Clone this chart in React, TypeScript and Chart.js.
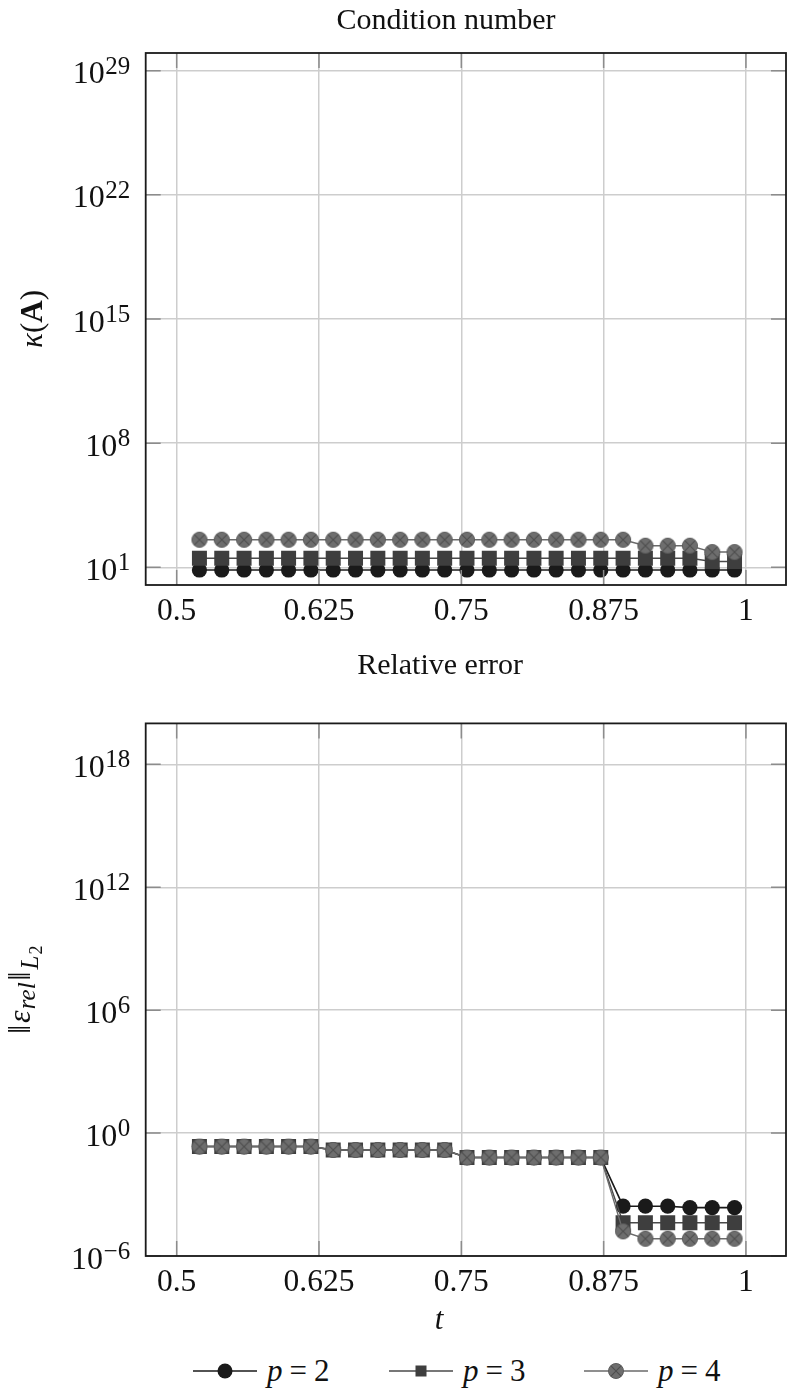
import React, { useEffect, useRef } from 'react';
import { Chart, registerables } from 'chart.js';

Chart.register(...registerables);

// ---------------- data ----------------
const tValues = [
  0.52, 0.5396, 0.5592, 0.5788, 0.5983, 0.6179, 0.6375, 0.6571, 0.6767, 0.6963,
  0.7158, 0.7354, 0.755, 0.7746, 0.7942, 0.8138, 0.8333, 0.8529, 0.8725, 0.8921,
  0.9117, 0.9313, 0.9508, 0.9704, 0.99,
];

const kappaP2 = [
  7, 7, 7, 7, 7, 7, 7, 7, 7, 7, 7, 7, 7, 7, 7, 7, 7, 7, 7, 7, 7, 7, 7, 7, 7,
];
const kappaP3 = [
  32, 32, 32, 32, 32, 32, 32, 32, 32, 32, 32, 32, 32, 32, 32, 32, 32, 32, 32, 32,
  32, 32, 32, 21, 21,
];
const kappaP4 = [
  357, 357, 357, 357, 357, 357, 357, 357, 357, 357, 357, 357, 357, 357, 357, 357,
  357, 357, 357, 357, 164, 164, 164, 72, 72,
];

const errP2 = [
  0.22, 0.22, 0.22, 0.22, 0.22, 0.22, 0.15, 0.15, 0.15, 0.15, 0.15, 0.15,
  0.064, 0.064, 0.064, 0.064, 0.064, 0.064, 0.064,
  2.7e-4, 2.7e-4, 2.7e-4, 2.3e-4, 2.3e-4, 2.3e-4,
];
const errP3 = [
  0.22, 0.22, 0.22, 0.22, 0.22, 0.22, 0.15, 0.15, 0.15, 0.15, 0.15, 0.15,
  0.064, 0.064, 0.064, 0.064, 0.064, 0.064, 0.064,
  4.2e-5, 4.2e-5, 4.2e-5, 4.2e-5, 4.2e-5, 4.2e-5,
];
const errP4 = [
  0.22, 0.22, 0.22, 0.22, 0.22, 0.22, 0.15, 0.15, 0.15, 0.15, 0.15, 0.15,
  0.064, 0.064, 0.064, 0.064, 0.064, 0.064, 0.064,
  1.6e-5, 7e-6, 7e-6, 7e-6, 7e-6, 7e-6,
];

const seriesLabels = ['2', '3', '4'];
const xTicks = [0.5, 0.625, 0.75, 0.875, 1];
const xTickLabels = ['0.5', '0.625', '0.75', '0.875', '1'];
const kappaExps = [1, 8, 15, 22, 29];
const errExps = [-6, 0, 6, 12, 18];

// ---------------- styling ----------------
const SERIF = '"Liberation Serif", "DejaVu Serif", serif';
const C_P2 = '#1a1a1a';
const C_P3 = '#3e3e3e';
const C_P4 = '#6e6e6e';
const LINE_P2 = '#1a1a1a';
const LINE_P3 = '#4a4a4a';
const LINE_P4 = '#6a6a6a';

function makeOtimes(): HTMLCanvasElement {
  const c = document.createElement('canvas');
  c.width = 18;
  c.height = 18;
  const g = c.getContext('2d')!;
  g.beginPath();
  g.arc(9, 9, 7.6, 0, Math.PI * 2);
  g.fillStyle = C_P4;
  g.fill();
  g.lineWidth = 1;
  g.strokeStyle = '#5c5c5c';
  g.stroke();
  g.beginPath();
  const d = 7.6 * Math.SQRT1_2;
  g.moveTo(9 - d, 9 - d);
  g.lineTo(9 + d, 9 + d);
  g.moveTo(9 + d, 9 - d);
  g.lineTo(9 - d, 9 + d);
  g.strokeStyle = '#4e4e4e';
  g.lineWidth = 1.1;
  g.stroke();
  return c;
}

type Seg = { text: string; font: string; dy: number; gap?: number };

function richWidth(ctx: CanvasRenderingContext2D, segs: Seg[]) {
  let w = 0;
  for (const s of segs) {
    ctx.font = s.font;
    w += ctx.measureText(s.text).width + (s.gap || 0);
  }
  return w;
}

function drawRich(ctx: CanvasRenderingContext2D, segs: Seg[], x: number, y: number, rotate: boolean) {
  ctx.save();
  ctx.translate(x, y);
  if (rotate) ctx.rotate(-Math.PI / 2);
  const w = richWidth(ctx, segs);
  let cx = -w / 2;
  ctx.textAlign = 'left';
  ctx.textBaseline = 'alphabetic';
  ctx.fillStyle = '#111';
  for (const s of segs) {
    ctx.font = s.font;
    ctx.fillText(s.text, cx, s.dy);
    cx += ctx.measureText(s.text).width + (s.gap || 0);
  }
  ctx.restore();
}

type Cfg = {
  title: string;
  titleX: number;
  titleY: number;
  exps: number[];
  ylabel: Seg[];
  ylabelX: number;
  xlabel: boolean;
};

function decorPlugin(cfg: Cfg) {
  return {
    id: 'decor',
    afterDraw(chart: any) {
      const ctx: CanvasRenderingContext2D = chart.ctx;
      const { left, right, top, bottom } = chart.chartArea;
      const xs = chart.scales.x;
      const ys = chart.scales.y;
      ctx.save();
      // inward tick marks
      ctx.strokeStyle = '#8c8c8c';
      ctx.lineWidth = 1.5;
      ctx.beginPath();
      for (const v of xTicks) {
        const px = xs.getPixelForValue(v);
        ctx.moveTo(px, top);
        ctx.lineTo(px, top + 15);
        ctx.moveTo(px, bottom);
        ctx.lineTo(px, bottom - 15);
      }
      for (const e of cfg.exps) {
        const py = ys.getPixelForValue(Math.pow(10, e));
        ctx.moveTo(left, py);
        ctx.lineTo(left + 15, py);
        ctx.moveTo(right, py);
        ctx.lineTo(right - 15, py);
      }
      ctx.stroke();
      // frame
      ctx.strokeStyle = '#1a1a1a';
      ctx.lineWidth = 1.8;
      ctx.strokeRect(left, top, right - left, bottom - top);
      // x tick labels
      ctx.fillStyle = '#111';
      ctx.font = `31.5px ${SERIF}`;
      ctx.textAlign = 'center';
      ctx.textBaseline = 'alphabetic';
      xTicks.forEach((v, i) => {
        ctx.fillText(xTickLabels[i], xs.getPixelForValue(v), bottom + 35);
      });
      // y tick labels 10^e
      for (const e of cfg.exps) {
        const py = ys.getPixelForValue(Math.pow(10, e));
        const expStr = e < 0 ? '\u2212' + String(-e) : String(e);
        ctx.font = `25px ${SERIF}`;
        const w2 = ctx.measureText(expStr).width;
        ctx.textAlign = 'left';
        const xr = left - 15.5;
        ctx.fillText(expStr, xr - w2, py + 3);
        ctx.font = `32px ${SERIF}`;
        ctx.textAlign = 'right';
        ctx.fillText('10', xr - w2 - 0.5, py + 12.5);
      }
      // title
      ctx.font = `30px ${SERIF}`;
      ctx.textAlign = 'center';
      ctx.fillText(cfg.title, cfg.titleX, cfg.titleY);
      // y label
      drawRich(ctx, cfg.ylabel, cfg.ylabelX, (top + bottom) / 2, true);
      // x label
      if (cfg.xlabel) {
        ctx.font = `italic 31px ${SERIF}`;
        ctx.textAlign = 'center';
        ctx.fillText('t', 439, bottom + 73);
      }
      ctx.restore();
    },
  };
}

function buildChart(
  canvas: HTMLCanvasElement,
  ys: number[][],
  ymin: number,
  ymax: number,
  exps: number[],
  padTop: number,
  padBottom: number,
  cfg: Cfg,
  otimes: HTMLCanvasElement,
) {
  const mk = (vals: number[]) => vals.map((v, i) => ({ x: tValues[i], y: v }));
  return new Chart(canvas, {
    type: 'line',
    data: {
      datasets: [
        {
          label: 'p = ' + seriesLabels[2],
          data: mk(ys[2]),
          order: 0,
          borderColor: LINE_P4,
          borderWidth: 1.4,
          pointStyle: otimes as any,
          pointRadius: 8,
          backgroundColor: C_P4,
        },
        {
          label: 'p = ' + seriesLabels[1],
          data: mk(ys[1]),
          order: 1,
          borderColor: LINE_P3,
          borderWidth: 1.4,
          pointStyle: 'rect',
          pointRadius: 10.6,
          pointBackgroundColor: C_P3,
          pointBorderColor: C_P3,
          pointBorderWidth: 0,
        },
        {
          label: 'p = ' + seriesLabels[0],
          data: mk(ys[0]),
          order: 2,
          borderColor: LINE_P2,
          borderWidth: 1.6,
          pointStyle: 'circle',
          pointRadius: 7.6,
          pointBackgroundColor: C_P2,
          pointBorderColor: C_P2,
          pointBorderWidth: 0,
        },
      ],
    },
    options: {
      animation: false,
      responsive: false,
      maintainAspectRatio: false,
      events: [],
      layout: {
        autoPadding: false,
        padding: { left: 145.7, right: 5, top: padTop, bottom: padBottom },
      },
      plugins: {
        legend: { display: false },
        tooltip: { enabled: false },
        title: { display: false },
      },
      elements: { line: { tension: 0 } },
      scales: {
        x: {
          type: 'linear',
          bounds: 'data',
          min: 0.4728,
          max: 1.0352,
          afterBuildTicks: (s: any) => {
            s.ticks = xTicks.map((v) => ({ value: v }));
          },
          afterFit: (s: any) => {
            s.height = 0;
          },
          ticks: { display: false },
          grid: { color: '#cdcdcd', lineWidth: 1.5, drawTicks: false },
          border: { display: false },
        },
        y: {
          type: 'logarithmic',
          bounds: 'data',
          min: ymin,
          max: ymax,
          afterBuildTicks: (s: any) => {
            s.ticks = exps.map((e) => ({ value: Math.pow(10, e) }));
          },
          afterFit: (s: any) => {
            s.width = 0;
          },
          ticks: { display: false },
          grid: { color: '#cdcdcd', lineWidth: 1.5, drawTicks: false },
          border: { display: false },
        },
      },
    } as any,
    plugins: [decorPlugin(cfg)],
  });
}

function LegendSymbol({ kind }: { kind: number }) {
  const lineColor = kind === 0 ? LINE_P2 : kind === 1 ? LINE_P3 : LINE_P4;
  return (
    <svg width={64} height={20} style={{ display: 'block' }}>
      <line x1={0} y1={10} x2={64} y2={10} stroke={lineColor} strokeWidth={1.6} />
      {kind === 0 && <circle cx={32} cy={10} r={7.5} fill={C_P2} />}
      {kind === 1 && <rect x={26.5} y={4.5} width={11} height={11} fill={C_P3} />}
      {kind === 2 && (
        <g>
          <circle cx={32} cy={10} r={7.5} fill={C_P4} stroke="#5c5c5c" strokeWidth={1} />
          <line x1={26.7} y1={4.7} x2={37.3} y2={15.3} stroke="#4e4e4e" strokeWidth={1.1} />
          <line x1={37.3} y1={4.7} x2={26.7} y2={15.3} stroke="#4e4e4e" strokeWidth={1.1} />
        </g>
      )}
    </svg>
  );
}

export default function App() {
  const topRef = useRef<HTMLCanvasElement>(null);
  const botRef = useRef<HTMLCanvasElement>(null);

  useEffect(() => {
    const otimes = makeOtimes();
    const c1 = buildChart(
      topRef.current!,
      [kappaP2, kappaP3, kappaP4],
      1,
      1e30,
      kappaExps,
      53,
      55,
      {
        title: 'Condition number',
        titleX: 446,
        titleY: 29,
        exps: kappaExps,
        ylabel: [
          { text: '\u03ba', font: `italic 31px ${SERIF}`, dy: 0 },
          { text: '(', font: `31px ${SERIF}`, dy: 0 },
          { text: 'A', font: `bold 31px ${SERIF}`, dy: 0 },
          { text: ')', font: `31px ${SERIF}`, dy: 0 },
        ],
        ylabelX: 42,
        xlabel: false,
      },
      otimes,
    );
    const c2 = buildChart(
      botRef.current!,
      [errP2, errP3, errP4],
      1e-6,
      1e20,
      errExps,
      83.4,
      89,
      {
        title: 'Relative error',
        titleX: 440,
        titleY: 34,
        exps: errExps,
        ylabel: [
          { text: '\u2016', font: `32px ${SERIF}`, dy: 0, gap: 2 },
          { text: '\u03b5', font: `italic 32px ${SERIF}`, dy: 0, gap: 1 },
          { text: 'rel', font: `italic 25px ${SERIF}`, dy: 5, gap: 2 },
          { text: '\u2016', font: `32px ${SERIF}`, dy: 0, gap: 2 },
          { text: 'L', font: `italic 25px ${SERIF}`, dy: 8, gap: 1 },
          { text: '2', font: `18px ${SERIF}`, dy: 12 },
        ],
        ylabelX: 30,
        xlabel: true,
      },
      otimes,
    );
    return () => {
      c1.destroy();
      c2.destroy();
    };
  }, []);

  const legendItems = [0, 1, 2];
  const legendLeft = [193, 389, 584];

  return (
    <div
      style={{
        position: 'fixed',
        left: 0,
        top: 0,
        width: 791,
        height: 1398,
        background: '#fff',
        overflow: 'hidden',
      }}
    >
      <canvas
        ref={topRef}
        width={791}
        height={640}
        style={{ position: 'absolute', left: 0, top: 0, width: 791, height: 640 }}
      />
      <canvas
        ref={botRef}
        width={791}
        height={705}
        style={{ position: 'absolute', left: 0, top: 640, width: 791, height: 705 }}
      />
      {legendItems.map((k) => (
        <div
          key={k}
          style={{
            position: 'absolute',
            left: legendLeft[k],
            top: 1351,
            height: 40,
            display: 'flex',
            alignItems: 'center',
            fontFamily: SERIF,
            fontSize: 31,
            color: '#111',
            whiteSpace: 'nowrap',
          }}
        >
          <LegendSymbol kind={k} />
          <span style={{ marginLeft: 10 }}>
            <i>p</i>
            <span style={{ margin: '0 7px' }}>=</span>
            {seriesLabels[k]}
          </span>
        </div>
      ))}
    </div>
  );
}
